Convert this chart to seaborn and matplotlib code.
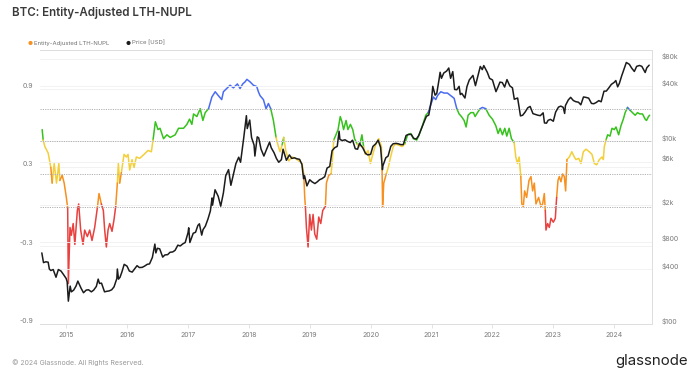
import numpy as np
import pandas as pd
import matplotlib
matplotlib.use("Agg")
import matplotlib.pyplot as plt
import matplotlib.dates as mdates
from matplotlib.ticker import FixedLocator, NullLocator
from matplotlib.transforms import ScaledTranslation, blended_transform_factory
import seaborn as sns

# --- data ------------------------------------------------------------------
nupl_dates = [
    "2014-08-10", "2014-08-16", "2014-08-26", "2014-09-15", "2014-10-01", "2014-10-09",
    "2014-10-21", "2014-11-04", "2014-11-18", "2014-11-24", "2014-12-08", "2014-12-20",
    "2015-01-02", "2015-01-10", "2015-01-14", "2015-01-24", "2015-02-01", "2015-02-12",
    "2015-02-22", "2015-03-09", "2015-03-17", "2015-03-29", "2015-04-12", "2015-04-22",
    "2015-05-08", "2015-05-22", "2015-06-05", "2015-06-21", "2015-07-07", "2015-07-17",
    "2015-07-31", "2015-08-12", "2015-08-20", "2015-08-30", "2015-09-09", "2015-09-19",
    "2015-10-03", "2015-10-15", "2015-10-25", "2015-11-04", "2015-11-10", "2015-11-18",
    "2015-11-28", "2015-12-14", "2015-12-28", "2016-01-07", "2016-01-17", "2016-01-31",
    "2016-02-12", "2016-02-26", "2016-03-17", "2016-04-12", "2016-05-06", "2016-05-26",
    "2016-06-05", "2016-06-19", "2016-07-05", "2016-07-17", "2016-08-07", "2016-08-27",
    "2016-09-16", "2016-10-16", "2016-11-05", "2016-12-05", "2016-12-25", "2017-01-10",
    "2017-01-24", "2017-02-03", "2017-02-23", "2017-03-15", "2017-03-31", "2017-04-14",
    "2017-05-04", "2017-05-24", "2017-06-13", "2017-07-02", "2017-07-22", "2017-08-01",
    "2017-08-21", "2017-09-10", "2017-09-30", "2017-10-24", "2017-11-09", "2017-11-25",
    "2017-12-09", "2017-12-20", "2018-01-08", "2018-01-28", "2018-02-17", "2018-02-27",
    "2018-03-09", "2018-03-29", "2018-04-14", "2018-04-28", "2018-05-12", "2018-05-28",
    "2018-06-13", "2018-06-27", "2018-07-07", "2018-07-19", "2018-07-29", "2018-08-10",
    "2018-08-28", "2018-09-17", "2018-10-07", "2018-10-27", "2018-11-16", "2018-11-26",
    "2018-12-02", "2018-12-06", "2018-12-12", "2018-12-22", "2019-01-01", "2019-01-11",
    "2019-01-21", "2019-01-31", "2019-02-12", "2019-02-24", "2019-03-08", "2019-03-20",
    "2019-04-05", "2019-04-11", "2019-04-25", "2019-05-09", "2019-05-15", "2019-05-25",
    "2019-06-04", "2019-06-20", "2019-07-03", "2019-07-13", "2019-07-23", "2019-08-07",
    "2019-08-18", "2019-09-02", "2019-09-16", "2019-09-27", "2019-10-12", "2019-10-26",
    "2019-11-10", "2019-11-20", "2019-12-01", "2019-12-17", "2019-12-31", "2020-01-14",
    "2020-01-30", "2020-02-19", "2020-03-06", "2020-03-10", "2020-03-13", "2020-03-20",
    "2020-04-04", "2020-04-16", "2020-04-30", "2020-05-16", "2020-05-30", "2020-06-19",
    "2020-07-09", "2020-07-24", "2020-08-10", "2020-08-29", "2020-09-14", "2020-10-04",
    "2020-10-18", "2020-11-07", "2020-11-27", "2020-12-11", "2020-12-27", "2021-01-12",
    "2021-01-26", "2021-02-05", "2021-02-25", "2021-03-17", "2021-04-06", "2021-04-26",
    "2021-05-16", "2021-06-01", "2021-06-15", "2021-06-29", "2021-07-15", "2021-07-27",
    "2021-08-08", "2021-08-24", "2021-09-09", "2021-09-19", "2021-10-03", "2021-10-19",
    "2021-11-02", "2021-11-22", "2021-12-12", "2022-01-01", "2022-01-21", "2022-02-04",
    "2022-02-16", "2022-03-02", "2022-03-16", "2022-03-28", "2022-04-11", "2022-04-25",
    "2022-05-11", "2022-05-21", "2022-05-31", "2022-06-10", "2022-06-20", "2022-06-26",
    "2022-07-05", "2022-07-13", "2022-07-25", "2022-08-08", "2022-08-20", "2022-08-30",
    "2022-09-09", "2022-09-19", "2022-10-05", "2022-10-19", "2022-10-29", "2022-11-08",
    "2022-11-14", "2022-11-18", "2022-11-28", "2022-12-08", "2022-12-18", "2023-01-01",
    "2023-01-13", "2023-01-21", "2023-01-29", "2023-02-06", "2023-02-16", "2023-02-26",
    "2023-03-08", "2023-03-16", "2023-03-24", "2023-04-07", "2023-04-22", "2023-05-07",
    "2023-05-17", "2023-06-02", "2023-06-16", "2023-06-30", "2023-07-16", "2023-08-05",
    "2023-08-21", "2023-09-04", "2023-09-18", "2023-10-04", "2023-10-20", "2023-10-28",
    "2023-11-03", "2023-11-13", "2023-11-23", "2023-12-07", "2023-12-19", "2024-01-02",
    "2024-01-12", "2024-01-28", "2024-02-11", "2024-02-25", "2024-03-07", "2024-03-21",
    "2024-04-04", "2024-04-20", "2024-05-06", "2024-05-20", "2024-06-03", "2024-06-19",
    "2024-07-05", "2024-07-13", "2024-07-25", "2024-08-01",
]
nupl_values = [
    0.59, 0.51, 0.46, 0.41, 0.30, 0.18,
    0.33, 0.18, 0.33, 0.20, 0.24, 0.18,
    0.07, -0.01, -0.59, -0.16, -0.22, -0.13,
    -0.29, -0.03, 0.02, -0.18, -0.29, -0.18,
    -0.23, -0.18, -0.26, -0.16, -0.01, 0.10,
    0.02, -0.03, -0.18, -0.31, -0.18, -0.13,
    -0.19, -0.10, 0.00, 0.18, 0.33, 0.18,
    0.26, 0.40, 0.38, 0.40, 0.28, 0.36,
    0.30, 0.38, 0.37, 0.40, 0.43, 0.42,
    0.51, 0.65, 0.59, 0.60, 0.52, 0.55,
    0.53, 0.55, 0.60, 0.60, 0.63, 0.67,
    0.63, 0.71, 0.69, 0.75, 0.66, 0.72,
    0.75, 0.84, 0.88, 0.85, 0.82, 0.88,
    0.905, 0.93, 0.91, 0.94, 0.905, 0.94,
    0.956, 0.975, 0.956, 0.93, 0.92, 0.88,
    0.85, 0.82, 0.75, 0.79, 0.75, 0.66,
    0.53, 0.46, 0.42, 0.47, 0.53, 0.43,
    0.35, 0.38, 0.37, 0.35, 0.33, 0.25,
    0.07, 0.00, -0.16, -0.31, -0.06, -0.18,
    -0.06, -0.21, -0.25, -0.08, -0.13, -0.03,
    0.00, 0.18, 0.24, 0.25, 0.33, 0.51,
    0.54, 0.59, 0.69, 0.65, 0.59, 0.66,
    0.59, 0.63, 0.59, 0.52, 0.48, 0.46,
    0.55, 0.46, 0.40, 0.43, 0.33, 0.40,
    0.47, 0.52, 0.46, 0.28, 0.00, 0.18,
    0.25, 0.30, 0.38, 0.46, 0.48, 0.47,
    0.46, 0.48, 0.55, 0.56, 0.52, 0.51,
    0.55, 0.62, 0.70, 0.72, 0.78, 0.84,
    0.82, 0.85, 0.88, 0.87, 0.87, 0.85,
    0.83, 0.75, 0.71, 0.69, 0.66, 0.61,
    0.70, 0.72, 0.72, 0.69, 0.72, 0.75,
    0.76, 0.75, 0.70, 0.67, 0.62, 0.56,
    0.60, 0.55, 0.60, 0.54, 0.60, 0.52,
    0.49, 0.38, 0.33, 0.38, 0.23, 0.02,
    0.00, 0.12, 0.07, 0.20, 0.23, 0.12,
    0.18, 0.02, 0.07, 0.00, 0.02, 0.10,
    -0.03, -0.18, -0.13, -0.16, -0.09, -0.12,
    -0.09, 0.07, 0.20, 0.23, 0.19, 0.25,
    0.23, 0.12, 0.36, 0.38, 0.42, 0.38,
    0.36, 0.37, 0.33, 0.42, 0.44, 0.42,
    0.40, 0.33, 0.32, 0.36, 0.38, 0.36,
    0.46, 0.51, 0.55, 0.54, 0.60, 0.59,
    0.61, 0.55, 0.62, 0.67, 0.72, 0.76,
    0.74, 0.72, 0.70, 0.72, 0.71, 0.71,
    0.67, 0.66, 0.69, 0.70,
]

price_dates = [
    "2014-08-08", "2014-08-18", "2014-09-01", "2014-09-15", "2014-09-22", "2014-10-01",
    "2014-10-15", "2014-11-01", "2014-11-15", "2014-12-01", "2014-12-15", "2015-01-01",
    "2015-01-07", "2015-01-14", "2015-01-25", "2015-02-01", "2015-02-15", "2015-03-01",
    "2015-03-12", "2015-04-01", "2015-04-15", "2015-05-01", "2015-05-15", "2015-06-01",
    "2015-06-15", "2015-07-01", "2015-07-12", "2015-07-20", "2015-08-01", "2015-08-19",
    "2015-09-01", "2015-09-15", "2015-10-01", "2015-10-15", "2015-11-01", "2015-11-04",
    "2015-11-11", "2015-11-20", "2015-12-01", "2015-12-15", "2016-01-01", "2016-01-15",
    "2016-02-01", "2016-02-15", "2016-03-01", "2016-03-15", "2016-04-01", "2016-04-15",
    "2016-05-01", "2016-05-15", "2016-06-01", "2016-06-16", "2016-06-22", "2016-07-01",
    "2016-07-15", "2016-08-02", "2016-08-15", "2016-09-01", "2016-09-15", "2016-10-01",
    "2016-10-15", "2016-11-01", "2016-11-15", "2016-12-01", "2016-12-15", "2017-01-01",
    "2017-01-05", "2017-01-12", "2017-02-01", "2017-02-15", "2017-03-01", "2017-03-10",
    "2017-03-24", "2017-04-01", "2017-04-15", "2017-05-01", "2017-05-15", "2017-05-25",
    "2017-05-28", "2017-06-12", "2017-07-01", "2017-07-16", "2017-08-01", "2017-08-15",
    "2017-09-01", "2017-09-15", "2017-10-01", "2017-10-15", "2017-11-01", "2017-11-12",
    "2017-12-01", "2017-12-17", "2017-12-22", "2018-01-06", "2018-01-17", "2018-02-01",
    "2018-02-06", "2018-02-20", "2018-03-01", "2018-03-15", "2018-04-01", "2018-04-15",
    "2018-05-05", "2018-05-15", "2018-06-01", "2018-06-15", "2018-06-29", "2018-07-15",
    "2018-07-25", "2018-08-14", "2018-09-01", "2018-09-15", "2018-10-01", "2018-10-15",
    "2018-11-01", "2018-11-15", "2018-11-25", "2018-12-01", "2018-12-15", "2019-01-01",
    "2019-01-15", "2019-02-01", "2019-02-15", "2019-03-01", "2019-03-15", "2019-04-01",
    "2019-04-15", "2019-05-01", "2019-05-15", "2019-06-01", "2019-06-15", "2019-06-26",
    "2019-07-01", "2019-07-15", "2019-08-01", "2019-08-15", "2019-09-01", "2019-09-15",
    "2019-10-01", "2019-10-15", "2019-10-26", "2019-11-01", "2019-11-15", "2019-12-01",
    "2019-12-15", "2020-01-01", "2020-01-15", "2020-02-01", "2020-02-15", "2020-03-01",
    "2020-03-12", "2020-03-15", "2020-04-01", "2020-04-15", "2020-05-01", "2020-05-15",
    "2020-06-01", "2020-06-15", "2020-07-01", "2020-07-15", "2020-08-01", "2020-08-15",
    "2020-09-01", "2020-09-15", "2020-10-01", "2020-10-15", "2020-11-01", "2020-11-15",
    "2020-12-01", "2020-12-15", "2021-01-01", "2021-01-08", "2021-01-22", "2021-02-01",
    "2021-02-15", "2021-02-21", "2021-03-01", "2021-03-15", "2021-04-01", "2021-04-14",
    "2021-04-25", "2021-05-08", "2021-05-19", "2021-06-01", "2021-06-15", "2021-06-22",
    "2021-07-01", "2021-07-20", "2021-08-01", "2021-08-15", "2021-09-06", "2021-09-21",
    "2021-10-01", "2021-10-20", "2021-11-01", "2021-11-10", "2021-12-01", "2021-12-15",
    "2022-01-01", "2022-01-22", "2022-02-01", "2022-02-15", "2022-03-01", "2022-03-15",
    "2022-03-29", "2022-04-15", "2022-05-01", "2022-05-12", "2022-06-01", "2022-06-18",
    "2022-07-01", "2022-07-15", "2022-08-01", "2022-08-15", "2022-09-01", "2022-09-15",
    "2022-10-01", "2022-10-15", "2022-11-01", "2022-11-09", "2022-11-21", "2022-12-01",
    "2022-12-15", "2023-01-01", "2023-01-15", "2023-02-01", "2023-02-15", "2023-03-01",
    "2023-03-10", "2023-03-15", "2023-04-01", "2023-04-15", "2023-05-01", "2023-05-15",
    "2023-06-01", "2023-06-15", "2023-07-01", "2023-07-15", "2023-08-01", "2023-08-18",
    "2023-09-01", "2023-09-15", "2023-10-01", "2023-10-15", "2023-11-01", "2023-11-15",
    "2023-12-01", "2023-12-15", "2024-01-01", "2024-01-11", "2024-01-22", "2024-02-01",
    "2024-02-15", "2024-03-01", "2024-03-14", "2024-04-01", "2024-04-15", "2024-05-01",
    "2024-05-15", "2024-06-01", "2024-06-15", "2024-07-05", "2024-07-15", "2024-07-29",
]
price_values = [
    600, 470, 480, 475, 400, 385,
    395, 325, 395, 380, 350, 315,
    290, 178, 260, 225, 235, 260,
    295, 245, 220, 235, 237, 225,
    235, 258, 310, 278, 280, 225,
    228, 230, 237, 255, 315, 400,
    310, 325, 370, 450, 430, 380,
    370, 400, 435, 415, 417, 430,
    450, 455, 535, 750, 600, 675,
    665, 540, 570, 575, 610, 615,
    640, 730, 715, 755, 780, 1000,
    1130, 780, 985, 1010, 1200, 1250,
    940, 1080, 1180, 1420, 1730, 2400,
    2000, 2950, 2500, 1950, 2720, 4200,
    4900, 3300, 4400, 5700, 6700, 5900,
    10900, 19100, 13800, 17100, 11000, 9100,
    6900, 11200, 10900, 8200, 6900, 8000,
    9800, 8500, 7500, 6500, 5900, 6300,
    8200, 6200, 7100, 6500, 6600, 6450,
    6350, 5600, 3900, 4200, 3250, 3800,
    3600, 3450, 3600, 3800, 3900, 4100,
    5100, 5300, 7900, 8550, 8800, 12900,
    10500, 10200, 10400, 10000, 9700, 10300,
    8300, 8200, 9500, 9200, 8500, 7400,
    7100, 7200, 8800, 9400, 10300, 8600,
    4900, 5400, 6600, 6900, 8800, 9400,
    9500, 9400, 9200, 9200, 11600, 11900,
    11900, 10800, 10600, 11500, 13800, 16000,
    18800, 19400, 29000, 40000, 32000, 33500,
    48000, 57000, 49000, 56000, 58800, 63500,
    49000, 58000, 37000, 36700, 40000, 32500,
    33500, 29800, 39800, 47000, 52700, 40700,
    48000, 66000, 61000, 67500, 57000, 48900,
    47000, 35000, 38500, 44500, 44000, 39300,
    47400, 40500, 38500, 28900, 29800, 19000,
    19300, 20800, 23300, 24100, 20100, 19700,
    19300, 19100, 20500, 15900, 15800, 17000,
    17400, 16600, 20900, 23700, 24300, 23600,
    20200, 24700, 28400, 30300, 28000, 27200,
    26800, 25100, 30600, 30300, 29700, 26000,
    25800, 26600, 27900, 27100, 35400, 35500,
    38700, 42000, 44200, 46300, 39500, 43000,
    52000, 62400, 73000, 69700, 63400, 58200,
    66200, 67700, 66200, 56700, 64000, 68200,
]

year_ticks = [str(y) for y in range(2015, 2025)]
nupl_ticks = [0.9, 0.3, -0.3, -0.9]
nupl_levels = [0.0, 0.25, 0.5, 0.75]
price_ticks = [100, 400, 800, 2000, 6000, 10000, 40000, 80000]
price_labels = ["$100", "$400", "$800", "$2k", "$6k", "$10k", "$40k", "$80k"]

zone_names = ["capitulation", "hope", "optimism", "belief", "euphoria"]
zone_colors = {
    "capitulation": "#e8413f",
    "hope": "#f7901e",
    "optimism": "#f3cf3a",
    "belief": "#36c21c",
    "euphoria": "#4a6cf2",
}

# --- styling ---------------------------------------------------------------
sns.set_theme(style="white")
plt.rcParams["font.family"] = ["Inter", "DejaVu Sans"]

TICK_COLOR = "#7a7a7a"
FRAME_COLOR = "#dedede"

fig = plt.figure(figsize=(6.99, 3.73), dpi=100)
ax = fig.add_axes([40 / 699, 1 - 324 / 373, 612 / 699, 274 / 373])

# split the NUPL line into runs of equal zone so each run gets its colour
nupl = pd.DataFrame({"date": pd.to_datetime(nupl_dates), "value": nupl_values})
vals = nupl["value"].to_numpy()
seg_zone = np.digitize((vals[:-1] + vals[1:]) / 2, nupl_levels)
run_id = np.concatenate([[0], np.cumsum(seg_zone[1:] != seg_zone[:-1])])
pieces = []
for r in np.unique(run_id):
    segs = np.where(run_id == r)[0]
    part = nupl.iloc[segs[0]:segs[-1] + 2].copy()
    part["zone"] = zone_names[seg_zone[segs[0]]]
    part["run"] = r
    pieces.append(part)
nupl_long = pd.concat(pieces, ignore_index=True)

sns.lineplot(
    data=nupl_long, x="date", y="value", hue="zone", units="run",
    estimator=None, palette=zone_colors, legend=False, linewidth=1.1,
    sort=False, ax=ax, zorder=3,
)

ax2 = ax.twinx()
price = pd.DataFrame({"date": pd.to_datetime(price_dates), "price": price_values})
sns.lineplot(data=price, x="date", y="price", color="#1c1c1c", linewidth=1.1, ax=ax2, zorder=4)

# zone boundaries: drawn on the top axes (in NUPL units) so the price grid
# does not paint over them
level_tf = blended_transform_factory(ax2.transAxes, ax.transData)
for level in nupl_levels:
    ax2.plot([0, 1], [level, level], transform=level_tf, color="#b0b0b0",
             lw=0.7, ls=(0, (1.2, 1.2)), zorder=1.5)

# axes ranges
ax.set_xlim(pd.Timestamp("2014-07-28"), pd.Timestamp("2024-08-15"))
ax.set_ylim(-0.9, 1.2)
ax2.set_yscale("log")
ax2.set_ylim(100, 100000)

# ticks
ax.xaxis.set_major_locator(FixedLocator(mdates.date2num(pd.to_datetime([y + "-01-01" for y in year_ticks]))))
ax.xaxis.set_major_formatter(mdates.DateFormatter("%Y"))
ax.set_yticks(nupl_ticks)
ax.set_yticklabels([f"{t:.1f}" for t in nupl_ticks])
ax2.yaxis.set_major_locator(FixedLocator(price_ticks))
ax2.yaxis.set_minor_locator(NullLocator())
ax2.set_yticklabels(price_labels)

ax.tick_params(axis="x", colors=TICK_COLOR, labelsize=5, length=3, width=0.6,
               color=FRAME_COLOR, pad=3, bottom=True)
ax.tick_params(axis="y", colors=TICK_COLOR, labelsize=5, length=0, pad=5)
ax2.tick_params(axis="y", colors=TICK_COLOR, labelsize=5, length=0, pad=7)

ax.set_xlabel("")
ax.set_ylabel("")
ax2.set_ylabel("")

# faint horizontal grid
ax.yaxis.grid(True, color="#f0f0f0", lw=0.6)
ax.xaxis.grid(False)
ax2.yaxis.grid(True, color="#f0f0f0", lw=0.6)
ax2.xaxis.grid(False)

for a in (ax, ax2):
    for side, sp in a.spines.items():
        sp.set_color(FRAME_COLOR)
        sp.set_linewidth(0.7)
    a.spines["left"].set_visible(False)

# tick labels sit a few pixels above their gridlines
lift = ScaledTranslation(0, 2.5 / 72, fig.dpi_scale_trans)
for lbl in ax.get_yticklabels() + ax2.get_yticklabels():
    lbl.set_transform(lbl.get_transform() + lift)

# --- texts -------------------------------------------------------------------
fig.text(12 / 699, 1 - 13 / 373, "BTC: Entity-Adjusted LTH-NUPL", fontsize=8.3,
         fontweight="semibold", color="#3a3a3a", va="center", ha="left")

fig.text(30 / 699, 1 - 43 / 373, "\u25CF", fontsize=4, color=zone_colors["hope"],
         va="center", ha="center")
fig.text(34 / 699, 1 - 43 / 373, "Entity-Adjusted LTH-NUPL", fontsize=4.3,
         color="#707070", va="center", ha="left")
fig.text(128 / 699, 1 - 43 / 373, "\u25CF", fontsize=4, color="#1c1c1c",
         va="center", ha="center")
fig.text(132 / 699, 1 - 43 / 373, "Price [USD]", fontsize=4.3,
         color="#707070", va="center", ha="left")

fig.text(12 / 699, 1 - 363 / 373, "\u00A9 2024 Glassnode. All Rights Reserved.",
         fontsize=5, color="#9a9a9a", va="center", ha="left")
fig.text(688 / 699, 1 - 361 / 373, "glassnode", fontsize=10.8, color="#222222",
         va="center", ha="right")

fig.savefig("out.png", dpi=100, facecolor="white")
